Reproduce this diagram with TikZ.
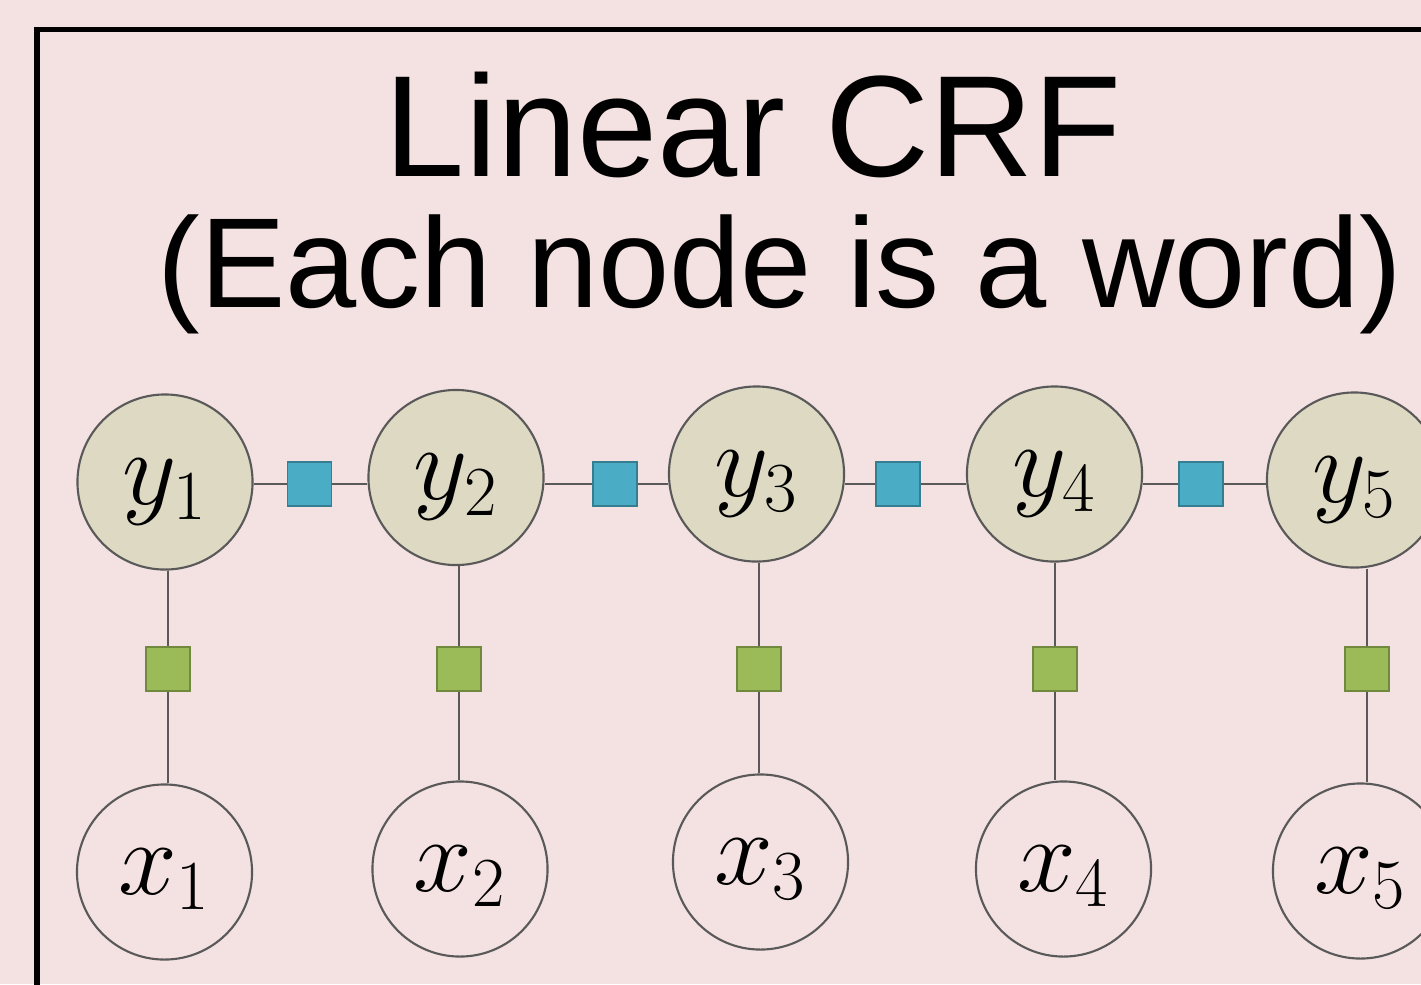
\RequirePackage{fix-cm}
\documentclass[tikz,border=0pt]{standalone}
\usepackage[no-math]{fontspec}
\setmainfont{Liberation Sans}
\usetikzlibrary{calc}
\DeclareMathSizes{30}{30}{20}{14}

\definecolor{slidebg}{RGB}{244,225,225}
\definecolor{labelfill}{RGB}{221,217,195}
\definecolor{nodeline}{RGB}{89,89,89}
\definecolor{transblue}{RGB}{75,172,198}
\definecolor{transline}{RGB}{53,125,145}
\definecolor{emitgreen}{RGB}{155,187,89}
\definecolor{emitline}{RGB}{113,137,63}

\tikzset{
  yvar/.style={circle, draw=nodeline, line width=0.6pt, fill=labelfill,
    minimum size=1.75cm, inner sep=0pt, text height=0.54cm, text depth=0.1cm,
    font=\fontsize{30}{36}\selectfont},
  xvar/.style={yvar, fill=none},
  transfac/.style={rectangle, draw=transline, fill=transblue, line width=0.4pt,
    minimum size=0.44cm, inner sep=0pt},
  emitfac/.style={transfac, draw=emitline, fill=emitgreen},
  link/.style={draw=nodeline, line width=0.45pt}
}

\begin{document}
\begin{tikzpicture}[x=0.01cm, y=-0.01cm]
            \fill [slidebg] (0,0) rectangle (1421,984);
            \useasboundingbox (0,0) rectangle (1421,984);
            \begin{scope}
              \clip (0,0) rectangle (1421,984);
              \draw [line width=1.45pt] (37,29.5) rectangle (1500,1100);
            \end{scope}

            \node [font=\fontsize{41}{49}\selectfont, anchor=base] (title) at (753.5,176) {Linear CRF};
            \node [font=\fontsize{36.4}{44}\selectfont, anchor=base] (subtitle) at (780,307) {(Each node is a word)};

            % label chain
            \node [yvar] (y1) at (165,482) {$y_1$};
            \node [yvar] (y2) at (456,477.5) {$y_2$};
            \node [yvar] (y3) at (756.5,474) {$y_3$};
            \node [yvar] (y4) at (1054.5,474) {$y_4$};
            \node [yvar] (y5) at (1354.5,480) {$y_5$};

            \node [transfac] (b1) at (309.5,484) {};
            \node [transfac] (b2) at (615,484) {};
            \node [transfac] (b3) at (898,484) {};
            \node [transfac] (b4) at (1201,484) {};

            \node [emitfac] (g1) at (168,669) {};
            \node [emitfac] (g2) at (459,669) {};
            \node [emitfac] (g3) at (759,669) {};
            \node [emitfac] (g4) at (1055,669) {};
            \node [emitfac] (g5) at (1367,669) {};

            % observed words
            \node [xvar] (x1) at (164.5,872) {$x_1$};
            \node [xvar] (x2) at (460,869) {$x_2$};
            \node [xvar] (x3) at (760.5,862) {$x_3$};
            \node [xvar] (x4) at (1063.5,869) {$x_4$};
            \node [xvar] (x5) at (1360.5,871) {$x_5$};

            \draw [link] (b1 -| y1.east) -- (b1) -- (b1 -| y2.west);
            \draw [link] (b2 -| y2.east) -- (b2) -- (b2 -| y3.west);
            \draw [link] (b3 -| y3.east) -- (b3) -- (b3 -| y4.west);
            \draw [link] (b4 -| y4.east) -- (b4) -- (b4 -| y5.west);

            \draw [link] (g1 |- y1.south) -- (g1) -- (g1 |- x1.north);
            \draw [link] (g2 |- y2.south) -- (g2) -- (g2 |- x2.north);
            \draw [link] (g3 |- y3.south) -- (g3) -- (g3 |- x3.north);
            \draw [link] (g4 |- y4.south) -- (g4) -- (g4 |- x4.north);
            \draw [link] (g5 |- y5.south) -- (g5) -- (g5 |- x5.north);
        \end{tikzpicture}
\end{document}
